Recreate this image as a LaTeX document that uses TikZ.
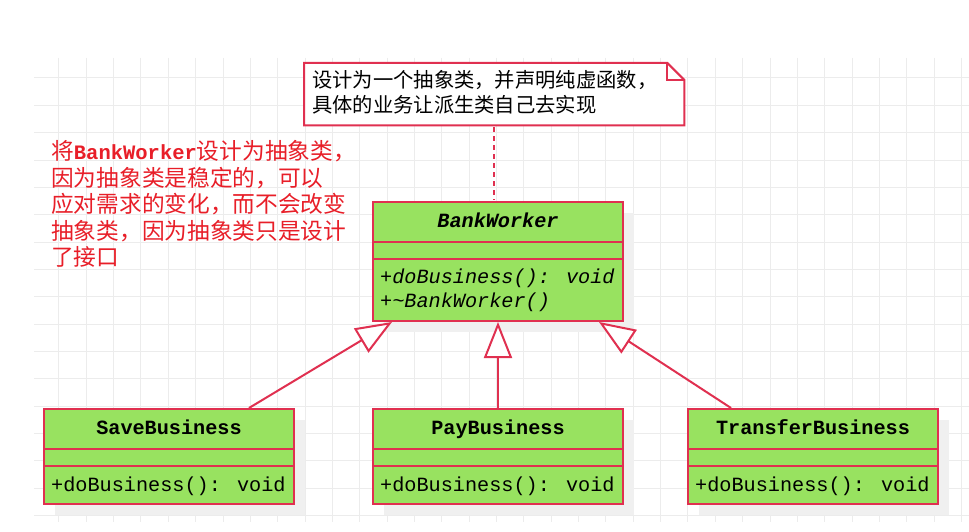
\documentclass[tikz,border=0pt]{standalone}
\usepackage{fontspec}
\newfontfamily\cjk{Noto Sans CJK SC}
\newfontfamily\umlmono{Liberation Mono}
\usetikzlibrary{arrows.meta,calc}
\definecolor{boxgreen}{RGB}{152,226,96}
\definecolor{umlred}{RGB}{224,48,80}
\definecolor{txtred}{RGB}{232,30,40}
\definecolor{gridc}{RGB}{236,236,236}
\definecolor{shadowc}{RGB}{240,240,240}
\tikzset{
  classbox/.style={draw=umlred, fill=boxgreen, line width=2pt, rectangle, inner sep=0pt, anchor=north west, minimum width=250pt},
  shadowbox/.style={fill=shadowc, draw=none, rectangle, inner sep=0pt, anchor=north west, minimum width=250pt},
  hdrtext/.style={inner sep=0pt, anchor=base, font=\umlmono\bfseries\fontsize{20.2}{24}\selectfont},
  methtext/.style={inner sep=0pt, anchor=base west, font=\umlmono\itshape\fontsize{20.2}{24}\selectfont},
  methplain/.style={inner sep=0pt, anchor=base west, font=\umlmono\fontsize{20.2}{24}\selectfont},
  notetext/.style={inner sep=0pt, anchor=base west, font=\cjk\fontsize{20.3}{24}\selectfont},
  redtext/.style={inner sep=0pt, anchor=base west, text=txtred, font=\cjk\fontsize{22.7}{26}\selectfont},
  genline/.style={draw=umlred, line width=2pt, -{Triangle[open, length=36pt, width=28pt, fill=white]}},
  compline/.style={draw=umlred, line width=2pt},
}
\begin{document}
\begin{tikzpicture}[x=1pt,y=-1pt]
\useasboundingbox (0,0) rectangle (969,532);
\fill[white] (0,0) rectangle (969,532);
% grid
\foreach \k in {0,...,33} {\draw[gridc, line width=1pt] ({58.9+27.35*\k},58) -- ({58.9+27.35*\k},522);}
\foreach \k in {0,...,16} {\draw[gridc, line width=1pt] (34,{78+27.35*\k}) -- (969,{78+27.35*\k});}

% shadows
\node[shadowbox, minimum height=119pt] (bwsh) at (384,213) {};
\node[shadowbox, minimum height=95pt] (savesh) at (55,420) {};
\node[shadowbox, minimum height=95pt] (paysh) at (384,420) {};
\node[shadowbox, minimum height=95pt] (trsh) at (699,420) {};

% note
\node[inner sep=0pt, anchor=north west, minimum width=380pt, minimum height=62pt] (note) at (304,63) {};
\draw[umlred, line width=2pt, fill=white, line join=miter]
  (note.north west) -- ($(note.north east)+(-17,0)$) -- ($(note.north east)+(0,17)$) -- (note.south east) -- (note.south west) -- cycle;
\draw[umlred, line width=2pt] ($(note.north east)+(-17,0)$) -- ($(note.north east)+(-17,17)$) -- ($(note.north east)+(0,17)$);
\node[notetext] (n1) at (312,87.5) {设计为一个抽象类，并声明纯虚函数，};
\node[notetext] (n2) at (312,113) {具体的业务让派生类自己去实现};

% red comment
\node[redtext] (r1) at (51,159.5) {将{\umlmono\bfseries\fontsize{20.5}{26}\selectfont BankWorker}设计为抽象类，};
\node[redtext] (r2) at (51,186) {因为抽象类是稳定的，可以};
\node[redtext] (r3) at (51,212.5) {应对需求的变化，而不会改变};
\node[redtext] (r4) at (51,239) {抽象类，因为抽象类只是设计};
\node[redtext] (r5) at (51,265.5) {了接口};

% BankWorker
\node[classbox, minimum height=119pt] (bw) at (372,201) {};
\draw[compline] ($(bw.north west)+(0,41)$) -- ($(bw.north east)+(0,41)$);
\draw[compline] ($(bw.north west)+(0,58)$) -- ($(bw.north east)+(0,58)$);
\node[hdrtext] (bwname) at ($(bw.north)+(0,26)$) {\itshape BankWorker};
\node[methtext] (bwm1) at ($(bw.north west)+(8,82)$) {+doBusiness(): void};
\node[methtext] (bwm2) at ($(bw.north west)+(8,106)$) {+\textasciitilde BankWorker()};

% dashed link
\draw[umlred, line width=2pt, dash pattern=on 5pt off 4pt] ($(note.south west)+(190,2)$) -- ($(bw.north west)+(122,-1)$);

% subclasses
\foreach \nm/\xx/\lbl in {save/43/SaveBusiness, pay/372/PayBusiness, transfer/687/TransferBusiness} {
  \node[classbox, minimum height=95pt] (\nm) at (\xx,408) {};
  \draw[compline] ($(\nm.north west)+(0,41)$) -- ($(\nm.north east)+(0,41)$);
  \draw[compline] ($(\nm.north west)+(0,58)$) -- ($(\nm.north east)+(0,58)$);
  \node[hdrtext] (\nm name) at ($(\nm.north)+(0,26)$) {\lbl};
  \node[methplain] (\nm m) at ($(\nm.north west)+(8,83)$) {+doBusiness(): void};
}

% generalizations
\draw[genline] ($(save.north west)+(206,0)$) -- ($(bw.south west)+(20,0)$);
\draw[genline] (pay.north) -- (bw.south);
\draw[genline] ($(transfer.north west)+(44,0)$) -- ($(bw.south east)+(-25,0)$);
\end{tikzpicture}
\end{document}
